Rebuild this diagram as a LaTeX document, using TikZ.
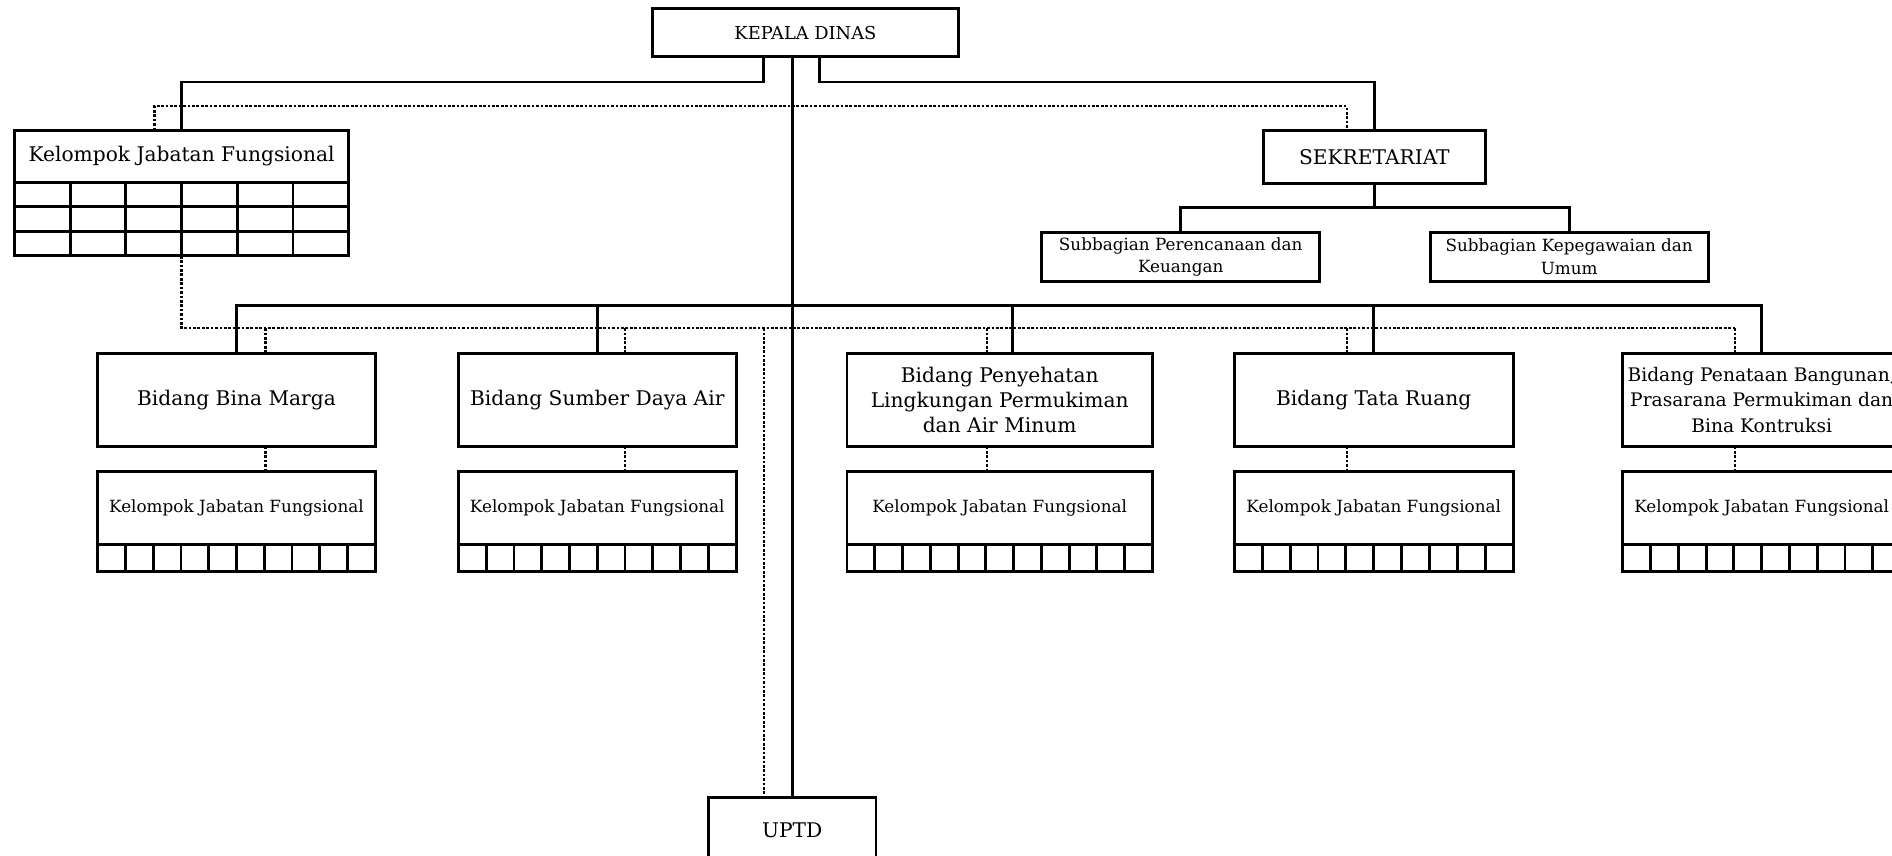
\documentclass[tikz,border=0pt]{standalone}
\usepackage{fontspec}
\setmainfont{DejaVu Serif}
\usetikzlibrary{positioning,calc}

\newcommand{\bigfnt}{\fontsize{11.9}{14.9}\selectfont}
\newcommand{\tightfnt}{\fontsize{11}{14.9}\selectfont}
\newcommand{\midfnt}{\fontsize{10.5}{12}\selectfont}
\newcommand{\smallfnt}{\fontsize{9.9}{13.5}\selectfont}

\begin{document}
\begin{tikzpicture}[
    x=0.025cm, y=-0.025cm,
    box/.style={draw, line width=1.7pt, outer sep=0pt, align=center, inner sep=1pt},
    line/.style={line width=1.7pt},
    dotline/.style={line width=1.3pt, dash pattern=on 1.6pt off 1pt}
]
    \useasboundingbox (0,0) rectangle (1568,709);

    % rows of the connectors
    \coordinate (toprow) at (0,68);
    \coordinate (dotrow) at (0,88);
    \coordinate (sekrow) at (0,172);
    \coordinate (bus) at (0,253);
    \coordinate (dotbus) at (0,272);

    \node[box, font=\midfnt, minimum width=6.325cm, minimum height=1cm] (kepala) at (667.5,27) {KEPALA DINAS};
    \node[box, font=\bigfnt, minimum width=6.925cm, minimum height=1.075cm] (kjf) at (150.5,129.5) {Kelompok Jabatan Fungsional};
    \node[box, minimum width=6.925cm, minimum height=1.525cm, below=0pt of kjf] (kjfg) {};
    \node[box, font=\bigfnt, minimum width=4.6cm, minimum height=1.1cm] (sek) at (1139,130) {SEKRETARIAT};
    \node[box, font=\smallfnt, minimum width=5.76cm, minimum height=1.025cm] (subren) at (978.5,213) {Subbagian Perencanaan dan\\Keuangan};
    \node[box, font=\smallfnt, minimum width=5.76cm, minimum height=1.025cm] (subpeg) at (1300.5,213) {Subbagian Kepegawaian dan\\Umum};

    \node[box, font=\bigfnt, minimum width=5.75cm, minimum height=1.925cm] (bbm) at (196,331.5) {Bidang Bina Marga};
    \node[box, font=\bigfnt, minimum width=5.75cm, minimum height=1.925cm] (bsda) at (495,331.5) {Bidang Sumber Daya Air};
    \node[box, font=\bigfnt, minimum width=6.325cm, minimum height=1.925cm] (bpl) at (828.5,331.5) {Bidang Penyehatan\\Lingkungan Permukiman\\dan Air Minum};
    \node[box, font=\bigfnt, minimum width=5.775cm, minimum height=1.925cm] (btr) at (1138.5,331.5) {Bidang Tata Ruang};
    \node[box, font=\tightfnt, minimum width=5.75cm, minimum height=1.925cm] (bpt) at (1460,331.5) {Bidang Penataan Bangunan,\\Prasarana Permukiman dan\\Bina Kontruksi};

    \node[box, font=\bigfnt, minimum width=3.475cm, minimum height=1.35cm] (uptd) at (656.5,688) {UPTD};

    % grid under the top kelompok
    \foreach \i in {1,2}
        \draw[line] ($(kjfg.north west)!\i/3!(kjfg.south west)$) -- ($(kjfg.north east)!\i/3!(kjfg.south east)$);
    \foreach \i in {1,...,5}
        \draw[line] ($(kjfg.north west)!\i/6!(kjfg.north east)$) -- ($(kjfg.south west)!\i/6!(kjfg.south east)$);

    % kelompok under each bidang
    \foreach \nm/\w/\n/\dx in {bbm/5.75/10/0.6, bsda/5.75/10/0.575, bpl/6.325/11/-0.2625, btr/5.775/10/-0.5625, bpt/5.75/10/-0.55}{
        \node[box, font=\smallfnt, minimum width=\w cm, minimum height=1.525cm, below=0.5125cm of \nm] (\nm k) {Kelompok Jabatan Fungsional};
        \node[box, minimum width=\w cm, minimum height=0.55cm, below=0pt of \nm k] (\nm g) {};
        \foreach \i in {1,...,\n}
            \draw[line] ($(\nm g.north west)!\i/\n!(\nm g.north east)$) -- ($(\nm g.south west)!\i/\n!(\nm g.south east)$);
        \coordinate (\nm d) at ([xshift=\dx cm]\nm.north);
        \draw[dotline] (\nm d |- \nm.south) -- (\nm d |- \nm k.north);
        \draw[dotline] (\nm d |- dotbus) -- (\nm d);
    }

    % kepala dinas to kelompok, sekretariat and uptd
    \coordinate (kl) at ([xshift=-0.8625cm]kepala.south);
    \coordinate (kr) at ([xshift=0.2875cm]kepala.south);
    \draw[line] (kl) -- (kl |- toprow) -- (kjf.north |- toprow) -- (kjf.north);
    \draw[line] (kr) -- (kr |- toprow) -- (sek.north |- toprow) -- (sek.north);
    \draw[line] (uptd.north |- kepala.south) -- (uptd.north);

    \coordinate (kjfd) at ([xshift=-0.5625cm]kjf.north);
    \coordinate (sekd) at ([xshift=-0.575cm]sek.north);
    \draw[dotline] (kjfd) -- (kjfd |- dotrow) -- (sekd |- dotrow) -- (sekd);

    % sekretariat to subbagian
    \draw[line] (sek.south) -- (sek.south |- sekrow);
    \draw[line] (subren.north) -- (subren.north |- sekrow) -- (subpeg.north |- sekrow) -- (subpeg.north);

    % bus to the bidang
    \coordinate (bpls) at ([xshift=0.2625cm]bpl.north);
    \draw[line] (bbm.north) -- (bbm.north |- bus) -- (bpt.north |- bus) -- (bpt.north);
    \foreach \nm in {bsda, btr}
        \draw[line] (\nm.north |- bus) -- (\nm.north);
    \draw[line] (bpls |- bus) -- (bpls);

    \draw[dotline] (kjfg.south) -- (kjfg.south |- dotbus) -- (bptd |- dotbus);
    \coordinate (uptdd) at ([xshift=-0.5875cm]uptd.north);
    \draw[dotline] (uptdd |- dotbus) -- (uptdd);
\end{tikzpicture}
\end{document}
